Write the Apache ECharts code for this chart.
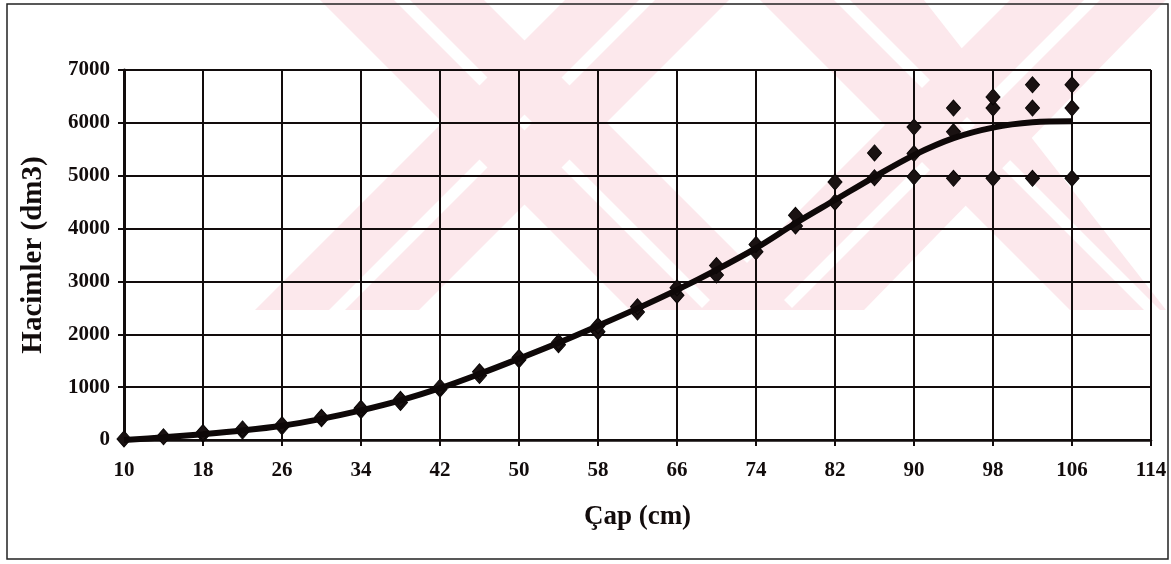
<!DOCTYPE html>
<html>
<head>
<meta charset="utf-8">
<script src="https://cdn.jsdelivr.net/npm/echarts@6/dist/echarts.min.js"></script>
<style>
  html, body { margin: 0; padding: 0; background: #ffffff; }
  #chart { width: 1171px; height: 564px; }
</style>
</head>
<body>
<div id="chart"></div>
<script>
// Measured stem volumes (dm3) by diameter class (cm)
const obsDiameter = [10, 14, 18, 18, 22, 22, 26, 26, 30, 30, 34, 34, 38, 38, 42, 42, 46, 46,
  50, 50, 54, 54, 58, 58, 62, 62, 66, 66, 70, 70, 74, 74, 78, 78, 82, 82, 86, 86,
  90, 90, 90, 94, 94, 94, 98, 98, 98, 102, 102, 102, 106, 106, 106];
const obsVolume = [20, 60, 110, 140, 170, 210, 250, 290, 400, 430, 560, 600, 710, 770, 960, 1000, 1220, 1290,
  1520, 1560, 1800, 1850, 2050, 2160, 2420, 2520, 2740, 2880, 3120, 3300, 3560, 3700, 4050, 4250, 4500, 4880, 4960, 5430,
  4980, 5420, 5920, 4950, 5830, 6280, 4950, 6280, 6490, 4950, 6280, 6720, 4950, 6280, 6720];

// Fitted volume curve
const fitDiameter = [10, 14, 18, 22, 26, 30, 34, 38, 42, 46, 50, 54, 58, 62, 66, 70, 74, 78, 82, 86, 90, 94, 98, 102, 106];
const fitVolume = [0, 50, 110, 180, 270, 400, 560, 750, 980, 1250, 1540, 1840, 2160, 2490, 2840, 3220, 3630, 4100, 4540, 4980, 5390, 5710, 5910, 6010, 6030];

// Axis ranges
const xMin = 10, xMax = 114, xStep = 8;
const yMin = 0, yMax = 7000, yStep = 1000;

const ink = '#120c0c';
const serif = '"Liberation Serif", "DejaVu Serif", serif';

// Faint striped background emblem: diagonal bands, each split by a thin white gap
const bandTop = 0, bandBottom = 310, bandRun = 310, stripe = 74, gap = 16;
function band(x, rising) {
  const parts = [];
  [0, stripe + gap].forEach(off => {
    const a = x + off, b = a + stripe;
    const pts = rising
      ? [[a, bandBottom], [b, bandBottom], [b + bandRun, bandTop], [a + bandRun, bandTop]]
      : [[a, bandTop], [b, bandTop], [b + bandRun, bandBottom], [a + bandRun, bandBottom]];
    parts.push({
      type: 'polygon',
      shape: { points: pts.map(p => [Math.min(p[0], 1166), p[1]]) },
      style: { fill: '#fce8ec' },
      silent: true,
      z: -20
    });
  });
  return parts;
}
const emblem = [].concat(
  band(255, true), band(320, false),
  band(700, true), band(760, false)
);

const chart = echarts.init(document.getElementById('chart'), null, { renderer: 'canvas' });

chart.setOption({
  backgroundColor: '#ffffff',
  animation: false,
  graphic: emblem.concat([
    {
      type: 'rect',
      shape: { x: 7, y: 4, width: 1161, height: 555 },
      style: { fill: 'none', stroke: '#222', lineWidth: 1.5 },
      silent: true,
      z: -10
    }
  ]),
  grid: { left: 124, right: 20, top: 70, bottom: 124, containLabel: false },
  xAxis: {
    type: 'value',
    min: xMin, max: xMax, interval: xStep,
    name: 'Çap (cm)',
    nameLocation: 'middle',
    nameGap: 64,
    nameTextStyle: { fontFamily: serif, fontWeight: 'bold', fontSize: 27, color: ink },
    axisLine: { show: true, onZero: false, lineStyle: { color: ink, width: 2.5 } },
    axisTick: { show: true, inside: false, length: 6, lineStyle: { color: ink, width: 2 } },
    axisLabel: { margin: 20, fontFamily: serif, fontWeight: 'bold', fontSize: 21, color: ink,
      formatter: v => String(v) },
    splitLine: { show: true, lineStyle: { color: ink, width: 2 } }
  },
  yAxis: {
    type: 'value',
    min: yMin, max: yMax, interval: yStep,
    name: 'Hacimler (dm3)',
    nameLocation: 'middle',
    nameGap: 76,
    nameRotate: 90,
    nameTextStyle: { fontFamily: serif, fontWeight: 'bold', fontSize: 29, color: ink },
    axisLine: { show: true, lineStyle: { color: ink, width: 3 } },
    axisTick: { show: true, inside: false, length: 6, lineStyle: { color: ink, width: 2 } },
    axisLabel: { margin: 14, fontFamily: serif, fontWeight: 'bold', fontSize: 21, color: ink,
      formatter: v => String(v) },
    splitLine: { show: true, lineStyle: { color: ink, width: 2 } }
  },
  series: [
    {
      name: 'Ölçülen',
      type: 'scatter',
      symbol: 'diamond',
      symbolSize: [14, 16],
      itemStyle: { color: '#1a1212', opacity: 1, borderColor: '#0a0606', borderWidth: 1 },
      data: obsDiameter.map((d, i) => [d, obsVolume[i]]),
      z: 3
    },
    {
      name: 'Eğri',
      type: 'line',
      smooth: 0.35,
      showSymbol: false,
      lineStyle: { color: '#0e0808', width: 6 },
      data: fitDiameter.map((d, i) => [d, fitVolume[i]]),
      z: 4
    }
  ]
});
</script>
</body>
</html>
